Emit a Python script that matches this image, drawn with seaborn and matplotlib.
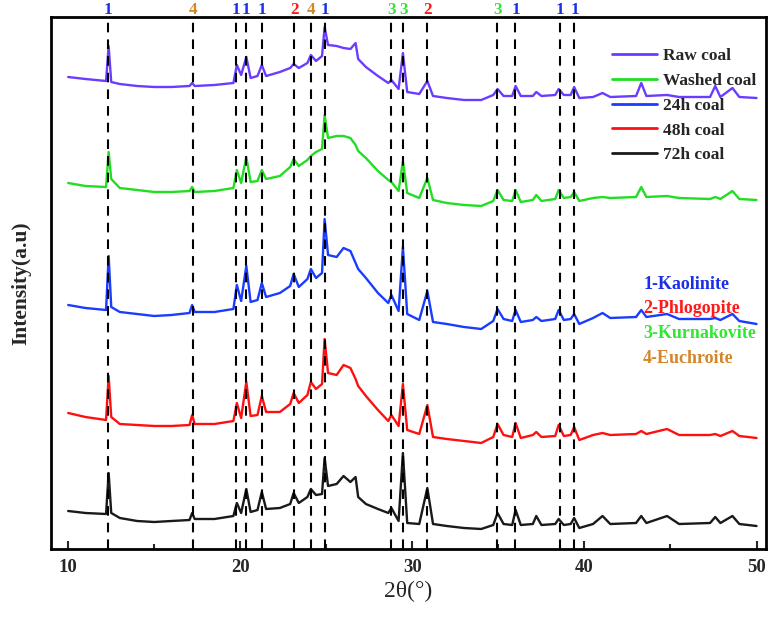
import numpy as np
import pandas as pd
import matplotlib
matplotlib.use("Agg")
import matplotlib.pyplot as plt
import seaborn as sns
from matplotlib.transforms import blended_transform_factory
from matplotlib.ticker import MultipleLocator

# ---------------- data ----------------
two_theta = [10.0, 11.0, 12.2, 12.35, 12.5, 13.0, 14.0, 15.0, 16.0, 17.05, 17.2, 17.35,
             18.5, 19.6, 19.8, 20.05, 20.35, 20.6, 21.0, 21.25, 21.5, 22.3, 22.9, 23.1,
             23.4, 23.9, 24.1, 24.4, 24.75, 24.9, 25.1, 25.6, 26.0, 26.4, 26.7, 26.85,
             27.3, 28.0, 28.6, 28.78, 29.2, 29.45, 29.7, 30.4, 30.87, 31.2, 32.0, 33.0,
             34.0, 34.7, 34.95, 35.3, 35.8, 36.0, 36.3, 37.0, 37.2, 37.5, 38.3, 38.5,
             38.8, 39.2, 39.4, 39.7, 40.5, 41.05, 41.5, 43.0, 43.3, 43.6, 44.8, 45.5,
             47.3, 47.6, 47.9, 48.6, 49.0, 50.0]

raw_coal = [472, 470, 468, 503, 467, 465, 463, 462, 462, 463, 466, 463,
            464, 466, 484, 474, 492, 471, 473, 484, 473, 477, 481, 485,
            481, 486, 494, 488, 493, 522, 504, 503, 501, 500, 506, 490,
            482, 473, 466, 469, 460, 496, 457, 455, 468, 453, 451, 449,
            449, 454, 460, 453, 453, 463, 453, 453, 457, 453, 454, 460,
            454, 454, 462, 451, 452, 456, 452, 453, 466, 453, 454, 452,
            452, 463, 452, 461, 452, 451]

washed_coal = [366, 363, 362, 397, 370, 361, 359, 357, 357, 358, 362, 357,
               358, 361, 379, 366, 392, 367, 368, 379, 370, 373, 382, 390,
               383, 389, 393, 397, 400, 434, 411, 413, 413, 411, 404, 398,
               391, 378, 369, 367, 358, 388, 356, 351, 371, 349, 346, 344,
               343, 348, 359, 349, 348, 359, 347, 349, 354, 348, 350, 359,
               351, 352, 357, 348, 351, 352, 351, 352, 362, 352, 353, 351,
               350, 352, 350, 358, 350, 349]

coal_24h = [244, 241, 239, 293, 242, 237, 235, 233, 234, 236, 244, 237,
            237, 240, 264, 248, 283, 247, 249, 266, 252, 256, 263, 275,
            262, 270, 280, 271, 276, 330, 294, 292, 301, 298, 286, 280,
            271, 256, 246, 254, 238, 302, 235, 229, 258, 227, 225, 222,
            220, 228, 240, 230, 228, 239, 227, 229, 232, 228, 230, 239,
            229, 230, 235, 225, 231, 236, 231, 232, 239, 232, 235, 230,
            230, 231, 229, 235, 228, 225]

coal_48h = [136, 132, 129, 173, 132, 125, 124, 123, 123, 124, 134, 125,
            125, 128, 146, 131, 167, 133, 134, 153, 137, 137, 145, 156,
            146, 154, 167, 160, 165, 210, 176, 174, 184, 181, 170, 163,
            153, 139, 128, 134, 123, 165, 119, 115, 144, 112, 110, 108,
            106, 112, 125, 114, 112, 126, 111, 114, 117, 112, 113, 124,
            113, 114, 122, 109, 114, 116, 114, 115, 118, 115, 120, 114,
            114, 115, 113, 118, 113, 111]

coal_72h = [38, 36, 35, 76, 36, 31, 28, 27, 28, 29, 36, 30,
            30, 33, 46, 36, 60, 37, 39, 57, 40, 41, 45, 56,
            46, 52, 60, 54, 55, 91, 63, 65, 73, 67, 72, 52,
            45, 40, 36, 41, 28, 96, 26, 25, 61, 25, 23, 21,
            20, 24, 36, 25, 24, 39, 24, 25, 33, 24, 25, 30,
            24, 25, 31, 21, 25, 33, 25, 26, 33, 26, 33, 25,
            26, 32, 26, 33, 25, 23]

series_names = ["Raw coal", "Washed coal", "24h coal", "48h coal", "72h coal"]
series_values = [raw_coal, washed_coal, coal_24h, coal_48h, coal_72h]
series_colors = ["#6a3cff", "#22dd22", "#1a3cff", "#ff1010", "#1a1a1a"]

peak_positions = [12.33, 17.27, 19.77, 20.35, 21.28, 23.14, 24.13, 24.94,
                  28.78, 29.48, 30.87, 34.94, 35.99, 38.55, 39.42]
peak_labels = ["1", "4", "1", "1", "1", "2", "4", "1",
               "3", "3", "2", "3", "1", "1", "1"]
mineral_names = ["1-Kaolinite", "2-Phlogopite", "3-Kurnakovite", "4-Euchroite"]
mineral_keys = ["1", "2", "3", "4"]
mineral_colors = ["#1a2fe6", "#ff1a1a", "#33e633", "#d4862a"]

x_ticks = [10, 20, 30, 40, 50]

# ---------------- build long-form table ----------------
frames = []
for name, vals in zip(series_names, series_values):
    frames.append(pd.DataFrame({"two_theta": two_theta, "intensity": vals, "sample": name}))
df = pd.concat(frames, ignore_index=True)

sns.set_style("ticks")
plt.rcParams["font.family"] = ["Liberation Serif", "DejaVu Serif"]

fig = plt.figure(figsize=(7.76, 6.18), dpi=100)
ax = fig.add_axes([51 / 776, 69 / 618, 715 / 776, 532 / 618])

sns.lineplot(data=df, x="two_theta", y="intensity", hue="sample",
             palette=dict(zip(series_names, series_colors)), hue_order=series_names,
             estimator=None, sort=False, linewidth=1.7, ax=ax, zorder=2)

# dashed reference lines
for xp in peak_positions:
    ax.axvline(xp, color="black", linewidth=1.5, linestyle=(0, (4.6, 3.4)), zorder=3)

key_color = dict(zip(mineral_keys, mineral_colors))
trans = blended_transform_factory(ax.transData, ax.transAxes)
for xp, lab in zip(peak_positions, peak_labels):
    ax.text(xp, 1.005, lab, transform=trans, ha="center", va="baseline",
            fontsize=12.3, fontweight="bold", color=key_color[lab], clip_on=False)

for i, (nm, col) in enumerate(zip(mineral_names, mineral_colors)):
    ax.text(0.828, 0.498 - i * 0.0468, nm, transform=ax.transAxes, ha="left", va="center",
            fontsize=13, fontweight="bold", color=col)

ax.set_xlim(9.0, 50.55)
ax.set_ylim(0, 532)
ax.set_xticks(x_ticks)
ax.xaxis.set_minor_locator(MultipleLocator(5))
ax.set_yticks([])
ax.tick_params(axis="x", which="major", direction="in", length=6, width=1.5, pad=7,
               labelsize=13.5)
ax.tick_params(axis="x", which="minor", direction="in", length=3.5, width=1.5)
for lbl in ax.get_xticklabels():
    lbl.set_fontweight("bold")
for sp in ax.spines.values():
    sp.set_linewidth(2.0)
    sp.set_color("black")

ax.set_xlabel("2θ(°)", fontsize=17, labelpad=4)
ax.set_ylabel("Intensity(a.u)", fontsize=15.5, fontweight="bold", labelpad=14)

leg = ax.legend(loc="upper left", bbox_to_anchor=(0.775, 0.955), frameon=False,
                prop={"weight": "bold", "size": 12.5}, handlelength=2.6,
                handletextpad=0.35, labelspacing=0.5, borderaxespad=0)
for line in leg.get_lines():
    line.set_linewidth(2.0)

fig.savefig("out.png", dpi=100)
